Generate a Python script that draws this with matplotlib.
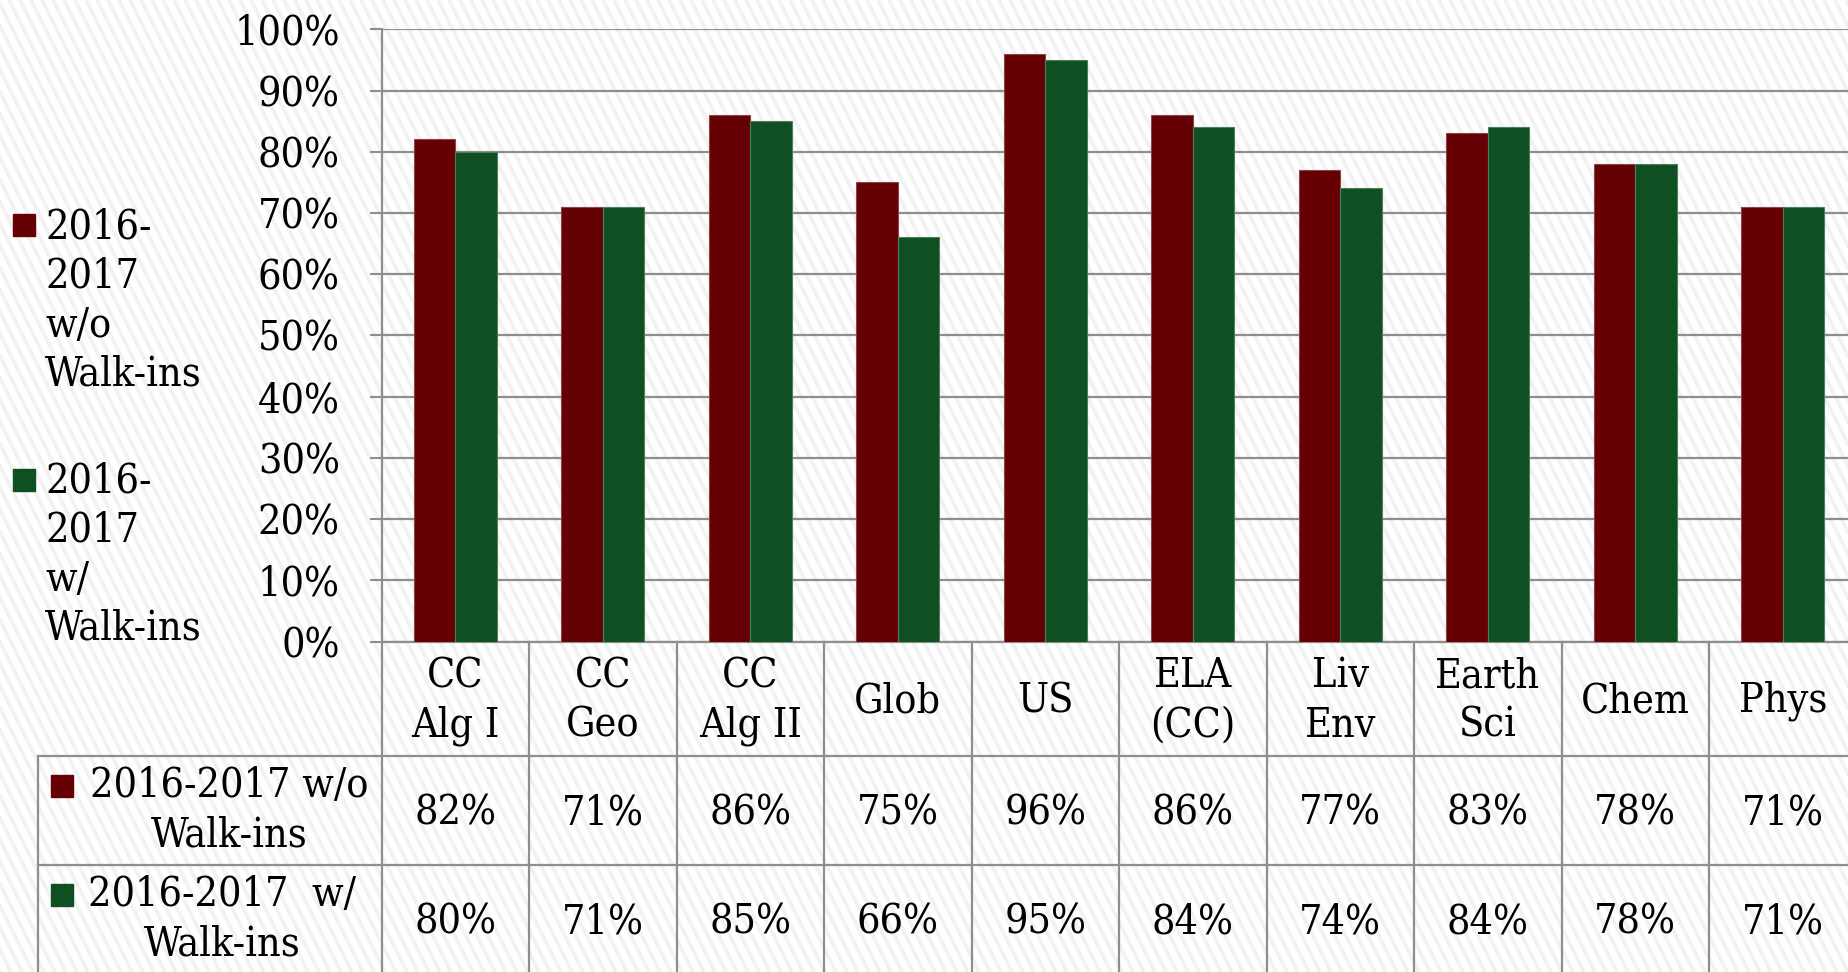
import matplotlib
matplotlib.use("Agg")
import matplotlib.pyplot as plt
import numpy as np
from matplotlib import font_manager as fm
from matplotlib.collections import LineCollection
from matplotlib.ticker import PercentFormatter
from matplotlib.transforms import blended_transform_factory

# narrow serif with a big x-height if it is there, else Liberation Serif
cond = [f for f in fm.fontManager.ttflist
        if f.name == "DejaVu Serif" and "ondensed" in f.fname
        and "Bold" not in f.fname and "Italic" not in f.fname]
if cond:
    plt.rcParams['font.family'] = ['DejaVu Serif']
    plt.rcParams['font.stretch'] = 'condensed'
    fs = 29.5
else:
    plt.rcParams['font.family'] = ['Liberation Serif', 'DejaVu Serif']
    fs = 32

categories = ["CC\nAlg I", "CC\nGeo", "CC\nAlg II", "Glob", "US", "ELA\n(CC)",
              "Liv\nEnv", "Earth\nSci", "Chem", "Phys"]
without_walkins = [82, 71, 86, 75, 96, 86, 77, 83, 78, 71]
with_walkins = [80, 71, 85, 66, 95, 84, 74, 84, 78, 71]

red = "#650005"
green = "#0f5022"
grid_col = "#8e8e8e"
W, H = 1848, 972
ls = 1.3

fig = plt.figure(figsize=(W / 100, H / 100), dpi=100)
fig.patch.set_facecolor("white")

# overlay axes in pixel coords (y down) for background, table and legend
ov = fig.add_axes([0, 0, 1, 1], zorder=0)
ov.set_xlim(0, W)
ov.set_ylim(H, 0)
ov.axis("off")

# diagonal stripes in the background
segs = []
for c in np.arange(-H / 2, W + 20, 11):
    segs.append([(c, 0), (c + H / 2, H)])
ov.add_collection(LineCollection(segs, colors="#f2f2f2", linewidths=2.8, zorder=0))

# main chart axes
left, right = 381.5, 1856.5
top, bot = 29.3, 641.5
ax = fig.add_axes([left / W, 1 - bot / H, (right - left) / W, (bot - top) / H], zorder=1)
ax.set_facecolor("none")

x = np.arange(len(categories))
bw = 0.283
ax.bar(x - bw / 2, without_walkins, bw, color=red, edgecolor="#8a4545", linewidth=0.8, zorder=3)
ax.bar(x + bw / 2, with_walkins, bw, color=green, edgecolor="#4f7f5a", linewidth=0.8, zorder=3)

ax.set_xlim(-0.5, len(categories) - 0.5)
ax.set_ylim(0, 100)
ax.set_yticks(np.arange(0, 101, 10))
ax.yaxis.set_major_formatter(PercentFormatter(decimals=0))
ax.grid(axis="y", color=grid_col, linewidth=1.6, zorder=1)
ax.set_axisbelow(True)
ax.tick_params(axis="y", length=9, width=1.5, color=grid_col, pad=21, labelsize=fs)
ax.tick_params(axis="x", bottom=False, labelbottom=False)
for s in ["top", "right"]:
    ax.spines[s].set_visible(False)
for s in ["left", "bottom"]:
    ax.spines[s].set_color(grid_col)
    ax.spines[s].set_linewidth(1.6)

# data table under the chart
bt = blended_transform_factory(ax.transData, ov.transData)
row_y = [756, 865]
for i in range(len(categories) + 1):
    ov.plot([i - 0.5, i - 0.5], [bot, H], color=grid_col, lw=1.6, transform=bt, zorder=2)
ov.plot([38, 38], [row_y[0], H], color=grid_col, lw=1.6, zorder=2)
for yy in row_y:
    ov.plot([38, W], [yy, yy], color=grid_col, lw=1.6, zorder=2)

for i, cat in enumerate(categories):
    ov.text(i, 701, cat, transform=bt, ha="center", va="center", fontsize=fs,
            linespacing=ls, zorder=3)
    ov.text(i, 813, f"{without_walkins[i]}%", transform=bt, ha="center", va="center",
            fontsize=fs, zorder=3)
    ov.text(i, 922, f"{with_walkins[i]}%", transform=bt, ha="center", va="center",
            fontsize=fs, zorder=3)

# row headers with keys
ov.plot([62], [785.5], marker="s", ms=16, color=red, zorder=3)
ov.plot([62], [894.5], marker="s", ms=16, color=green, zorder=3)
ov.text(229, 811, "2016-2017 w/o\nWalk-ins", ha="center", va="center", fontsize=fs,
        linespacing=ls, zorder=3)
ov.text(222, 919.5, "2016-2017  w/\nWalk-ins", ha="center", va="center", fontsize=fs,
        linespacing=ls, zorder=3)

# legend at left
ov.plot([23.5], [225], marker="s", ms=16.5, color=red, zorder=3)
ov.plot([23.5], [479.5], marker="s", ms=16.5, color=green, zorder=3)
ov.text(45, 301, "2016-\n2017\nw/o\nWalk-ins", ha="left", va="center", fontsize=fs,
        linespacing=ls, zorder=3)
ov.text(45, 555, "2016-\n2017\nw/\nWalk-ins", ha="left", va="center", fontsize=fs,
        linespacing=ls, zorder=3)

fig.savefig("out.png", dpi=100)
